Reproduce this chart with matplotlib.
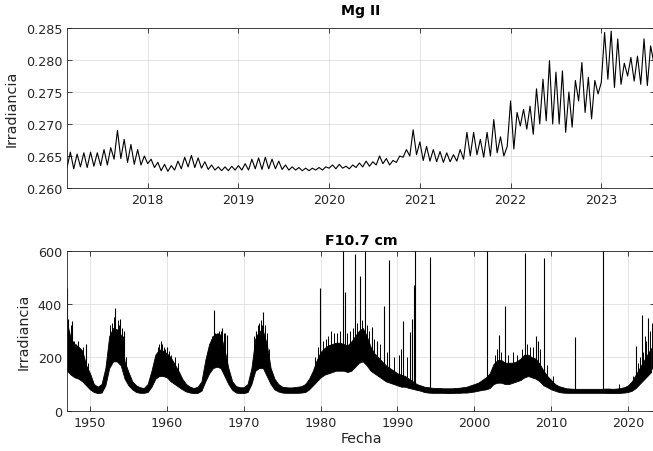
import matplotlib
matplotlib.use("Agg")
import matplotlib.pyplot as plt
import numpy as np


# Mg II index, half-rotation samples per year segment: (start, end, values)
MG_2017 = [0.2632, 0.2656, 0.2630, 0.2653, 0.2633, 0.2655, 0.2632, 0.2656, 0.2634, 0.2655,
           0.2635, 0.2660, 0.2636, 0.2663, 0.2645, 0.2690, 0.2646, 0.2676, 0.2640, 0.2668,
           0.2637, 0.2660, 0.2636, 0.2650]
MG_2018 = [0.2638, 0.2645, 0.2632, 0.2640, 0.2627, 0.2637, 0.2626, 0.2635, 0.2628, 0.2642,
           0.2630, 0.2648, 0.2633, 0.2651, 0.2632, 0.2647, 0.2631, 0.2641, 0.2629, 0.2636,
           0.2628, 0.2633, 0.2627, 0.2633, 0.2627, 0.2634, 0.2628]
MG_2019 = [0.2635, 0.2628, 0.2638, 0.2628, 0.2645, 0.2630, 0.2647, 0.2629, 0.2648, 0.2630,
           0.2645, 0.2630, 0.2642, 0.2629, 0.2636, 0.2628, 0.2633, 0.2628, 0.2632, 0.2627,
           0.2631, 0.2627, 0.2631, 0.2628, 0.2632, 0.2628, 0.2633]
MG_2020 = [0.2631, 0.2636, 0.2630, 0.2637, 0.2631, 0.2634, 0.2630, 0.2636, 0.2632, 0.2639,
           0.2633, 0.2642, 0.2634, 0.2641, 0.2636, 0.2650, 0.2638, 0.2646, 0.2636, 0.2643,
           0.2640, 0.2650, 0.2648, 0.2660, 0.2650, 0.2691, 0.2652]
MG_2021 = [0.2672, 0.2643, 0.2665, 0.2642, 0.2660, 0.2641, 0.2657, 0.2640, 0.2655, 0.2641,
           0.2652, 0.2642, 0.2660, 0.2645, 0.2687, 0.2650, 0.2687, 0.2652, 0.2676, 0.2648,
           0.2687, 0.2650, 0.2707, 0.2655, 0.2680, 0.2650, 0.2665]
MG_2022 = [0.2736, 0.2661, 0.2718, 0.2697, 0.2723, 0.2692, 0.2728, 0.2684, 0.2755, 0.2700,
           0.2770, 0.2705, 0.2799, 0.2700, 0.2781, 0.2700, 0.2783, 0.2687, 0.2750, 0.2695,
           0.2768, 0.2736, 0.2796, 0.2718, 0.2773, 0.2708, 0.2768, 0.2747]
MG_2023 = [0.2765, 0.2843, 0.2770, 0.2845, 0.2757, 0.2833, 0.2762, 0.2795, 0.2775, 0.2804,
           0.2767, 0.2806, 0.2762, 0.2833, 0.2760, 0.2822, 0.2795]
MG_SEGMENTS = [(2017.11, 2018.0, MG_2017), (2018.0, 2019.0, MG_2018), (2019.0, 2020.0, MG_2019),
               (2020.0, 2021.0, MG_2020), (2021.0, 2022.0, MG_2021), (2022.0, 2023.0, MG_2022),
               (2023.0, 2023.58, MG_2023)]

# F10.7 cm flux, half-year band (daily low / high) from 1947.0
F107_START = 1947.0
F107_LOW = [150, 135, 125, 120, 110, 95,
            80, 70, 66, 68, 95, 160, 185, 185, 170, 120,
            95, 80, 70, 67, 67, 70, 90, 120, 130, 130,
            125, 110, 100, 90, 80, 72, 68, 66, 67, 75,
            110, 140, 160, 165, 160, 130, 100, 78, 68, 66,
            66, 70, 100, 150, 160, 160, 130, 100, 80, 72,
            68, 67, 67, 67, 67, 68, 70, 80, 95, 110,
            125, 135, 140, 145, 150, 150, 150, 145, 150, 165,
            180, 185, 170, 150, 140, 130, 120, 110, 105, 100,
            95, 90, 90, 85, 82, 78, 75, 70, 68, 67,
            67, 67, 67, 66, 66, 67, 67, 68, 68, 70,
            72, 75, 78, 80, 85, 100, 105, 105, 100, 100,
            105, 110, 115, 125, 130, 125, 120, 110, 95, 88,
            80, 75, 70, 68, 67, 67, 67, 67, 67, 67,
            67, 67, 67, 67, 67, 66, 66, 66, 67, 68,
            70, 75, 85, 100, 115, 130, 145]
F107_HIGH = [330, 270, 250, 240, 225, 170,
             140, 100, 90, 100, 160, 280, 310, 305, 285, 185,
             145, 110, 95, 88, 85, 100, 150, 210, 230, 225,
             215, 200, 175, 150, 120, 100, 90, 85, 90, 110,
             190, 250, 280, 290, 285, 230, 160, 110, 92, 88,
             88, 100, 160, 270, 300, 300, 250, 160, 120, 100,
             90, 88, 87, 88, 90, 92, 100, 120, 150, 190,
             220, 235, 245, 250, 255, 255, 250, 245, 260, 280,
             300, 310, 280, 240, 215, 200, 185, 170, 160, 150,
             140, 135, 130, 120, 110, 100, 95, 90, 88, 86,
             85, 85, 84, 84, 84, 85, 86, 88, 90, 95,
             100, 105, 115, 125, 140, 175, 190, 190, 180, 180,
             180, 185, 195, 210, 210, 200, 195, 175, 150, 130,
             115, 100, 92, 88, 84, 83, 82, 82, 82, 82,
             82, 82, 82, 82, 83, 83, 82, 83, 85, 88,
             95, 110, 135, 160, 185, 210, 235]

# isolated daily spikes (year, flux)
SPIKE_YEARS = [1947.04, 1947.2, 1947.7, 1948.5, 1949.48, 1953.3, 1953.9, 1954.4, 1959.2, 1960.0,
               1966.08, 1966.6, 1967.2, 1967.85, 1971.6, 1972.57, 1979.87, 1982.87, 1983.2,
               1984.48, 1985.17, 1985.74, 1986.65, 1987.35, 1988.3, 1988.96, 1990.74, 1991.6,
               1991.9, 1992.13, 1992.22, 1994.3, 2001.65, 2003.26, 2004.04, 2006.65, 2008.08,
               2008.3, 2009.13, 2013.1, 2016.69, 2021.08, 2021.77, 2022.6]
SPIKE_VALUES = [459, 344, 338, 260, 250, 385, 344, 300, 263, 240,
                379, 290, 309, 284, 300, 371, 459, 620, 444,
                588, 506, 620, 313, 263, 391, 566, 336, 294,
                344, 471, 620, 575, 620, 284, 391, 592, 280,
                263, 571, 275, 620, 244, 359, 346]

# smaller excursions above the daily band
MINOR_YEARS = [1947.3, 1947.5, 1947.9, 1948.2, 1948.7, 1949.1, 1949.8,
               1952.6, 1952.9, 1953.1, 1953.6, 1953.75, 1954.1, 1954.3, 1954.7,
               1958.8, 1959.0, 1959.4, 1959.6, 1959.8, 1960.3, 1960.6, 1961.0, 1961.4,
               1965.7, 1965.9, 1966.3, 1966.8, 1967.0, 1967.4, 1967.6,
               1971.4, 1971.8, 1972.0, 1972.2, 1972.4, 1972.8, 1973.0, 1973.3,
               1979.3, 1979.6, 1980.3, 1980.7, 1981.0, 1981.4, 1981.8, 1982.2, 1982.5,
               1983.5, 1983.8, 1984.2, 1984.8, 1985.4, 1986.0, 1986.3, 1987.0, 1987.7,
               1988.6, 1989.5, 1990.2, 1990.5, 1991.2,
               2002.7, 2003.0, 2003.5, 2004.4, 2005.0, 2005.5, 2006.2, 2006.9, 2007.3,
               2007.7, 2008.5, 2009.5, 2010.2,
               2018.8, 2020.6, 2021.3, 2021.5, 2022.0, 2022.2, 2022.4, 2022.8, 2023.1, 2023.3]
MINOR_VALUES = [300, 320, 260, 250, 230, 240, 180,
                320, 330, 350, 340, 320, 310, 280, 200,
                240, 250, 250, 240, 230, 225, 210, 200, 180,
                270, 280, 290, 300, 300, 290, 290,
                280, 320, 330, 340, 320, 320, 290, 230,
                200, 240, 260, 270, 280, 300, 290, 290, 300,
                290, 300, 310, 330, 340, 320, 300, 270, 250,
                220, 200, 210, 230, 200,
                210, 230, 220, 210, 220, 210, 230, 250, 240,
                240, 230, 170, 130,
                100, 130, 180, 200, 220, 280, 260, 300, 330, 260]

MG_TICKS = [0.260, 0.265, 0.270, 0.275, 0.280, 0.285]
F107_TICKS = [0, 200, 400, 600]


def _style_axes(ax):
    ax.grid(True, color="#dedede", linewidth=0.6)
    ax.set_axisbelow(True)
    for sp in ax.spines.values():
        sp.set_color("#262626")
        sp.set_linewidth(0.6)
    ax.tick_params(direction="in", length=3.5, width=0.6, top=True, right=True,
                   labelsize=9.2, colors="#262626")


def main():
    fig = plt.figure(figsize=(6.53, 4.52), dpi=100)
    ax1 = fig.add_axes([67 / 653, 1 - 189 / 452, 588 / 653, 160 / 452])
    ax2 = fig.add_axes([67 / 653, 1 - 411.7 / 452, 588 / 653, 160 / 452])

    # Mg II
    t_parts, v_parts = [], []
    for i, (a, b, vals) in enumerate(MG_SEGMENTS):
        last = i == len(MG_SEGMENTS) - 1
        t_parts.append(np.linspace(a, b, len(vals), endpoint=last))
        v_parts.append(np.asarray(vals))
    t_mg = np.concatenate(t_parts)
    v_mg = np.concatenate(v_parts)
    ax1.plot(t_mg, v_mg, color="black", linewidth=0.8)
    ax1.set_xlim(2017.11, 2023.592)
    ax1.set_ylim(0.260, 0.285)
    ax1.set_yticks(MG_TICKS)
    ax1.set_yticklabels([f"{v:.3f}" for v in MG_TICKS])
    ax1.set_xticks(range(2018, 2024))
    ax1.set_title("Mg II", fontsize=10.2, fontweight="bold", pad=10)
    ax1.set_ylabel("Irradiancia", fontsize=10.4, color="#262626", labelpad=5)
    _style_axes(ax1)

    # F10.7
    t_f = F107_START + 0.5 * np.arange(len(F107_LOW))
    ax2.fill_between(t_f, F107_LOW, F107_HIGH, color="black", linewidth=0.6, edgecolor="black")
    # spikes start inside the band
    base_major = np.interp(SPIKE_YEARS, t_f, F107_LOW) + 10
    base_minor = np.interp(MINOR_YEARS, t_f, F107_LOW) + 10
    ax2.vlines(MINOR_YEARS, base_minor, MINOR_VALUES, color="black", linewidth=0.7)
    ax2.vlines(SPIKE_YEARS, base_major, SPIKE_VALUES, color="black", linewidth=0.8)
    ax2.set_xlim(1947.007, 2023.51)
    ax2.set_ylim(0, 600)
    ax2.set_yticks(F107_TICKS)
    ax2.set_xticks(range(1950, 2030, 10))
    ax2.set_title("F10.7 cm", fontsize=10.2, fontweight="bold", pad=5)
    ax2.set_ylabel("Irradiancia", fontsize=10.4, color="#262626", labelpad=5)
    ax2.set_xlabel("Fecha", fontsize=10.2, color="#262626", labelpad=2)
    _style_axes(ax2)

    fig.savefig("out.png", dpi=100)
    plt.close(fig)


if __name__ == "__main__":
    main()
